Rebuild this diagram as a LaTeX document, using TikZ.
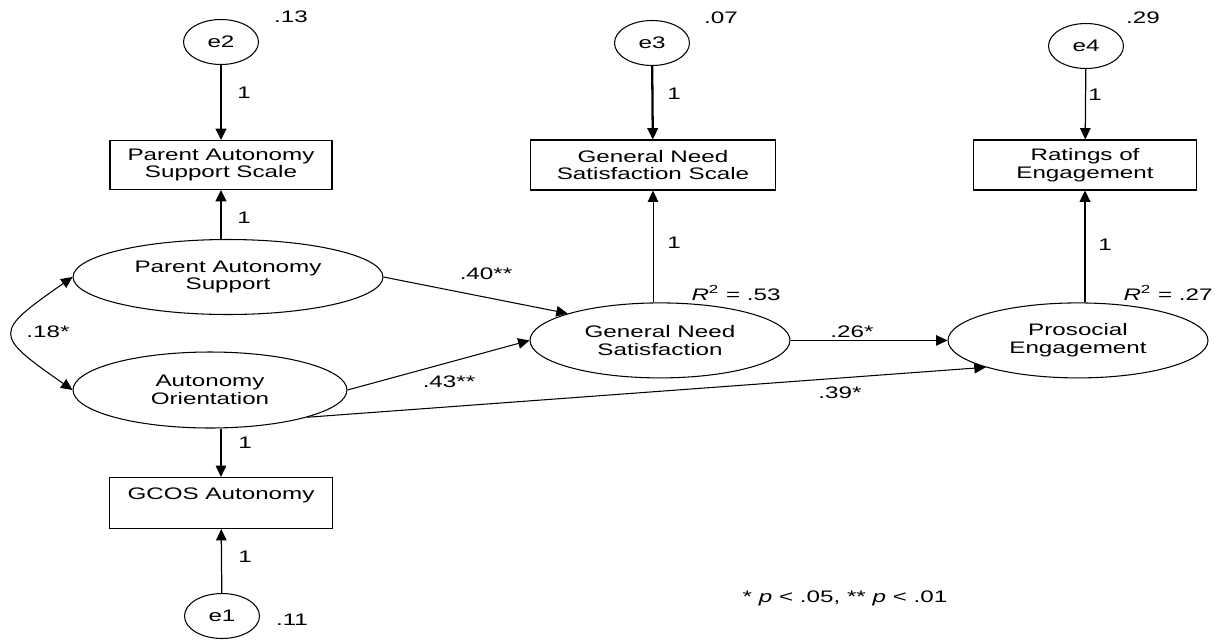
\documentclass[tikz,border=0pt]{standalone}
\usepackage{fontspec}
\setmainfont{Liberation Sans}[FakeStretch=1.45]
\usetikzlibrary{arrows.meta,shapes.geometric}

\tikzstyle{latent} = [ellipse,draw,line width=0.6pt,inner sep=0pt,align=center,minimum width=5.2cm,minimum height=1.5cm]
\tikzstyle{errvar} = [ellipse,draw,line width=0.6pt,inner sep=0pt,minimum width=1.5cm,minimum height=0.9cm]
\tikzstyle{measure} = [rectangle,draw,line width=0.6pt,inner sep=0pt,align=center,minimum width=4.46cm,minimum height=1cm]
\tikzstyle{regr} = [-{Triangle[length=6.5pt,width=6pt]},line width=0.7pt]
\tikzstyle{coef} = [inner sep=0pt]

\begin{document}
\begin{tikzpicture}[x=0.02cm,y=-0.02cm,font=\fontsize{9.5}{10.2}\selectfont]
	\useasboundingbox (0,0) rectangle (1220,640);

	\node[errvar] (e2) at (221,42) {e2};
	\node[errvar] (e3) at (652,43) {e3};
	\node[errvar] (e4) at (1086,46) {e4};
	\node[errvar] (e1) at (222,616) {e1};

	\node[measure,minimum width=4.44cm,minimum height=0.98cm] (pass) at (221,165) {Parent Autonomy\\Support Scale};
	\node[measure,minimum width=4.9cm] (gnss) at (653,165) {General Need\\Satisfaction Scale};
	\node[measure] (roe) at (1085,165) {Ratings of\\Engagement};
	\node[measure,minimum height=1.02cm] (gcos) at (221,503) {GCOS Autonomy\\~};

	\node[latent,minimum width=6.2cm] (pas) at (228,277) {Parent Autonomy\\Support};
	\node[latent,minimum width=5.48cm,minimum height=1.52cm] (ao) at (210,390) {Autonomy\\Orientation};
	\node[latent] (gns) at (660,340.4) {General Need\\Satisfaction};
	\node[latent] (pe) at (1078,340.4) {Prosocial\\Engagement};

	\draw[regr,line width=1.3pt] (e2) -- (pass);
	\draw[regr,line width=1.3pt] (pas.north -| pass) -- (pass);
	\draw[regr,line width=1.3pt] (e3) -- (gnss);
	\draw[regr,line width=0.5pt] (gns.north -| gnss) -- (gnss);
	\draw[regr] (e4) -- (roe);
	\draw[regr,line width=1.3pt] (pe.north -| roe) -- (roe);
	\draw[regr] (ao.south -| gcos) -- (gcos);
	\draw[regr] (e1) -- (gcos);

	\draw[regr,{Triangle[length=6.5pt,width=6pt]}-{Triangle[length=6.5pt,width=6pt]},line width=0.6pt] (pas.west) to[out=215,in=145,looseness=2.2] (ao.west);
	\draw[regr,line width=0.6pt] (pas.east) -- (gns.north west);
	\draw[regr,line width=0.6pt] (ao.east) -- (gns.west);
	\draw[regr,line width=0.5pt] (gns.east) -- (pe.west);
	\draw[regr,line width=0.6pt] (ao.south east) -- (pe.south west);

	\node[coef] (v13) at (291,17) {.13};
	\node[coef] (v07) at (721,18) {.07};
	\node[coef] (v29) at (1143,18) {.29};
	\node[coef] (v11) at (292,620) {.11};

	\node[coef] (w1) at (244,93) {1};
	\node[coef] (w2) at (244,218) {1};
	\node[coef] (w3) at (245,443) {1};
	\node[coef] (w4) at (245,557) {1};
	\node[coef] (w5) at (674,94) {1};
	\node[coef] (w6) at (674,243) {1};
	\node[coef] (w7) at (1095,95) {1};
	\node[coef] (w8) at (1105,245) {1};

	\node[coef] (c18) at (48,332) {.18*};
	\node[coef] (c40) at (486,274) {.40**};
	\node[coef] (c43) at (449,382) {.43**};
	\node[coef] (c26) at (852,332) {.26*};
	\node[coef] (c39) at (840,393) {.39*};

	\node[coef] (r53) at (736,293) {\textit{R}\textsuperscript{2} = .53};
	\node[coef] (r27) at (1168,293) {\textit{R}\textsuperscript{2} = .27};

	\node[coef] (note) at (845,598) {* \textit{p} < .05, ** \textit{p} < .01};
\end{tikzpicture}
\end{document}
